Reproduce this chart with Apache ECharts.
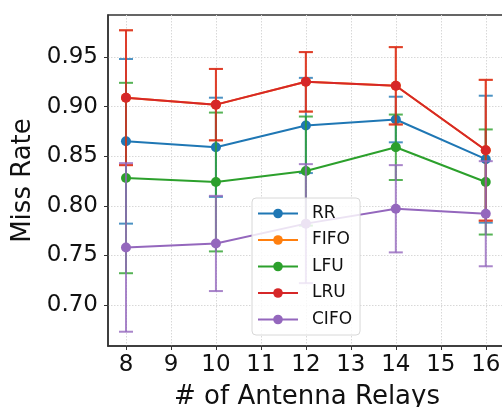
<!DOCTYPE html>
<html>
<head>
<meta charset="utf-8">
<script src="https://cdn.jsdelivr.net/npm/echarts@6/dist/echarts.min.js"></script>
<style>html,body{margin:0;padding:0;background:#fff;}#c{width:502px;height:407px;}</style>
</head>
<body>
<div id="c"></div>
<script>
const relays = [8, 10, 12, 14, 16];
const xTicks = [8, 9, 10, 11, 12, 13, 14, 15, 16];
const yTicks = [0.70, 0.75, 0.80, 0.85, 0.90, 0.95];

const rrMean   = [0.865, 0.859, 0.881, 0.887, 0.847];
const rrErr    = [0.083, 0.050, 0.048, 0.023, 0.064];
const fifoMean = [0.909, 0.902, 0.925, 0.921, 0.856];
const fifoErr  = [0.068, 0.036, 0.030, 0.039, 0.071];
const lfuMean  = [0.828, 0.824, 0.835, 0.859, 0.824];
const lfuErr   = [0.096, 0.070, 0.055, 0.033, 0.053];
const lruMean  = [0.909, 0.902, 0.925, 0.921, 0.856];
const lruErr   = [0.068, 0.036, 0.030, 0.039, 0.071];
const cifoMean = [0.758, 0.762, 0.782, 0.797, 0.792];
const cifoErr  = [0.085, 0.048, 0.060, 0.044, 0.053];

const seriesDefs = [
  {name: 'RR',   mean: rrMean,   err: rrErr,   color: '#1f77b4'},
  {name: 'FIFO', mean: fifoMean, err: fifoErr, color: '#ff7f0e'},
  {name: 'LFU',  mean: lfuMean,  err: lfuErr,  color: '#2ca02c'},
  {name: 'LRU',  mean: lruMean,  err: lruErr,  color: '#d62728'},
  {name: 'CIFO', mean: cifoMean, err: cifoErr, color: '#9467bd'}
];

const series = [];
seriesDefs.forEach(function (d, i) {
  const color = d.color;
  series.push({
    name: d.name + ' err',
    type: 'custom',
    z: 2 + i * 2,
    silent: true,
    data: relays.map(function (x, k) { return [x, d.mean[k] - d.err[k], d.mean[k] + d.err[k]]; }),
    encode: {x: 0, y: [1, 2]},
    renderItem: function (params, api) {
      const x = api.value(0);
      const top = api.coord([x, api.value(2)]);
      const bot = api.coord([x, api.value(1)]);
      const w = 7;
      const st = {stroke: color, lineWidth: 2, opacity: 0.8};
      return {
        type: 'group',
        children: [
          {type: 'line', shape: {x1: top[0], y1: top[1], x2: bot[0], y2: bot[1]}, style: st},
          {type: 'line', shape: {x1: top[0] - w, y1: top[1], x2: top[0] + w, y2: top[1]}, style: st},
          {type: 'line', shape: {x1: bot[0] - w, y1: bot[1], x2: bot[0] + w, y2: bot[1]}, style: st}
        ]
      };
    }
  });
  series.push({
    name: d.name,
    type: 'line',
    z: 3 + i * 2,
    data: relays.map(function (x, k) { return [x, d.mean[k]]; }),
    symbol: 'circle',
    symbolSize: 10,
    itemStyle: {color: color},
    lineStyle: {color: color, width: 2},
    emphasis: {disabled: true}
  });
});

const chart = echarts.init(document.getElementById('c'), null, {renderer: 'canvas'});
chart.setOption({
  animation: false,
  backgroundColor: '#fff',
  grid: {left: 108, top: 15, width: 398, height: 331, outerBoundsMode: 'none', containLabel: false,
    show: true, borderColor: '#333', borderWidth: 1.5, backgroundColor: 'transparent'},
  xAxis: {
    type: 'value', min: 7.6, max: 16.45,
    name: '# of Antenna Relays', nameLocation: 'middle', nameGap: 38,
    nameTextStyle: {fontFamily: 'DejaVu Sans', fontSize: 26, color: '#111'},
    axisLine: {show: true, lineStyle: {color: '#333', width: 1.5}},
    axisTick: {show: true, customValues: xTicks, length: 4, lineStyle: {color: '#333', width: 1}},
    axisLabel: {customValues: xTicks, fontFamily: 'DejaVu Sans', fontSize: 23, color: '#111', margin: 8},
    splitLine: {show: true, lineStyle: {color: '#d8d8d8', type: [1.5, 1.5], width: 1}}
  },
  yAxis: {
    type: 'value', min: 0.6586, max: 0.9924,
    name: 'Miss Rate', nameLocation: 'middle', nameGap: 72,
    nameTextStyle: {fontFamily: 'DejaVu Sans', fontSize: 26, color: '#111'},
    axisLine: {show: true, lineStyle: {color: '#333', width: 1.5}},
    axisTick: {show: true, customValues: yTicks, length: 4, lineStyle: {color: '#333', width: 1}},
    axisLabel: {customValues: yTicks, fontFamily: 'DejaVu Sans', fontSize: 23, color: '#111', margin: 10,
      formatter: function (v) { return v.toFixed(2); }},
    splitLine: {show: true, lineStyle: {color: '#d8d8d8', type: [1.5, 1.5], width: 1}}
  },
  legend: {
    data: seriesDefs.map(function (d) { return d.name; }),
    orient: 'vertical', left: 252, top: 198,
    padding: [7, 8, 7, 5],
    itemWidth: 40, itemHeight: 12, itemGap: 9.5,
    backgroundColor: 'rgba(255,255,255,0.82)', borderColor: '#d8d8d8', borderWidth: 1, borderRadius: 4,
    textStyle: {fontFamily: 'DejaVu Sans', fontSize: 17, color: '#111', padding: [0, 0, 0, 9], lineHeight: 17},
    z: 20
  },
  series: series
});
</script>
</body>
</html>
